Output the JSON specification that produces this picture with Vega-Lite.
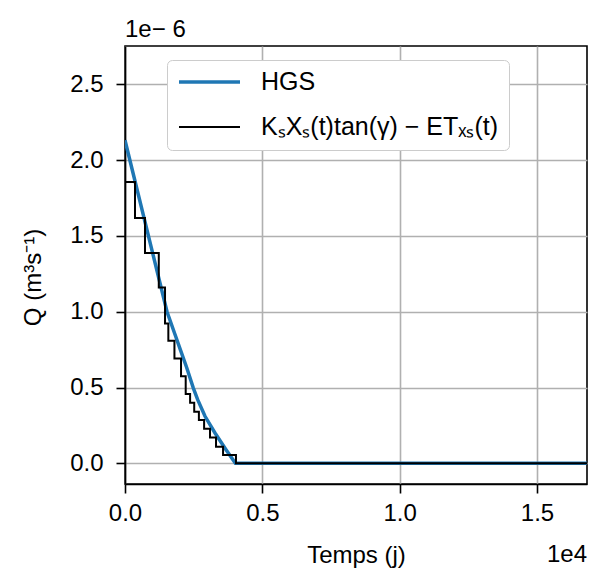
{
  "$schema": "https://vega.github.io/schema/vega-lite/v6.json",
  "width": 462,
  "height": 438,
  "autosize": "none",
  "padding": {"left": 125, "top": 46, "right": 4, "bottom": 86},
  "background": "white",
  "title": {"text": "1e− 6", "anchor": "start", "frame": "group", "fontSize": 24, "fontWeight": "normal", "font": "Liberation Sans", "color": "black", "baseline": "alphabetic", "offset": 9, "dy": 24},
  "data": {"values": [
    {"t": 0, "Q": 2.131e-6, "serie": "HGS"},
    {"t": 1530, "Q": 1.0e-6, "serie": "HGS"},
    {"t": 1821, "Q": 0.85e-6, "serie": "HGS"},
    {"t": 2027, "Q": 0.743e-6, "serie": "HGS"},
    {"t": 2245, "Q": 0.632e-6, "serie": "HGS"},
    {"t": 2488, "Q": 0.496e-6, "serie": "HGS"},
    {"t": 2646, "Q": 0.42e-6, "serie": "HGS"},
    {"t": 2913, "Q": 0.31e-6, "serie": "HGS"},
    {"t": 3277, "Q": 0.2e-6, "serie": "HGS"},
    {"t": 3678, "Q": 0.09e-6, "serie": "HGS"},
    {"t": 4020, "Q": 0, "serie": "HGS"},
    {"t": 16820, "Q": 0, "serie": "HGS"},
    {"t": 0, "Q": 1.856e-6, "serie": "KₛXₛ(t)tan(γ) − ETₓₛ(t)"},
    {"t": 364, "Q": 1.619e-6, "serie": "KₛXₛ(t)tan(γ) − ETₓₛ(t)"},
    {"t": 728, "Q": 1.388e-6, "serie": "KₛXₛ(t)tan(γ) − ETₓₛ(t)"},
    {"t": 1230, "Q": 1.16e-6, "serie": "KₛXₛ(t)tan(γ) − ETₓₛ(t)"},
    {"t": 1457, "Q": 0.923e-6, "serie": "KₛXₛ(t)tan(γ) − ETₓₛ(t)"},
    {"t": 1578, "Q": 0.808e-6, "serie": "KₛXₛ(t)tan(γ) − ETₓₛ(t)"},
    {"t": 1800, "Q": 0.692e-6, "serie": "KₛXₛ(t)tan(γ) − ETₓₛ(t)"},
    {"t": 2040, "Q": 0.575e-6, "serie": "KₛXₛ(t)tan(γ) − ETₓₛ(t)"},
    {"t": 2210, "Q": 0.457e-6, "serie": "KₛXₛ(t)tan(γ) − ETₓₛ(t)"},
    {"t": 2370, "Q": 0.40e-6, "serie": "KₛXₛ(t)tan(γ) − ETₓₛ(t)"},
    {"t": 2520, "Q": 0.34e-6, "serie": "KₛXₛ(t)tan(γ) − ETₓₛ(t)"},
    {"t": 2690, "Q": 0.285e-6, "serie": "KₛXₛ(t)tan(γ) − ETₓₛ(t)"},
    {"t": 2880, "Q": 0.228e-6, "serie": "KₛXₛ(t)tan(γ) − ETₓₛ(t)"},
    {"t": 3095, "Q": 0.171e-6, "serie": "KₛXₛ(t)tan(γ) − ETₓₛ(t)"},
    {"t": 3314, "Q": 0.11e-6, "serie": "KₛXₛ(t)tan(γ) − ETₓₛ(t)"},
    {"t": 3570, "Q": 0.055e-6, "serie": "KₛXₛ(t)tan(γ) − ETₓₛ(t)"},
    {"t": 4040, "Q": 0, "serie": "KₛXₛ(t)tan(γ) − ETₓₛ(t)"},
    {"t": 16820, "Q": 0, "serie": "KₛXₛ(t)tan(γ) − ETₓₛ(t)"}
  ]},
  "layer": [
    {
      "transform": [{"filter": "datum.serie === 'HGS'"}],
      "mark": {"type": "line", "clip": true},
      "encoding": {
        "x": {"field": "t", "type": "quantitative",
          "scale": {"domain": [0, 16820], "nice": false, "zero": false},
          "axis": {"title": "Temps (j)", "values": [0, 5000, 10000, 15000], "labelExpr": "format(datum.value/10000, '.1f')", "labelFlush": false, "labelOverlap": false, "labelPadding": 8, "titlePadding": 18}},
        "y": {"field": "Q", "type": "quantitative",
          "scale": {"domain": [-0.1365e-6, 2.753e-6], "nice": false, "zero": false},
          "axis": {"title": "Q (m³s⁻¹)", "values": [0, 0.5e-6, 1.0e-6, 1.5e-6, 2.0e-6, 2.5e-6], "labelExpr": "format(datum.value*1000000, '.1f')", "labelFlush": false, "labelOverlap": false, "labelPadding": 13, "titlePadding": 24, "titleY": 231}},
        "color": {"field": "serie", "type": "nominal", "scale": {"domain": ["HGS", "KₛXₛ(t)tan(γ) − ETₓₛ(t)"], "range": ["#1f77b4", "#000000"]}, "legend": {"title": null}},
        "strokeWidth": {"field": "serie", "type": "nominal", "scale": {"type": "ordinal", "domain": ["HGS", "KₛXₛ(t)tan(γ) − ETₓₛ(t)"], "range": [3.5, 2]}, "legend": {"title": null}}
      }
    },
    {
      "transform": [{"filter": "datum.serie !== 'HGS'"}],
      "mark": {"type": "line", "interpolate": "step-after", "clip": true},
      "encoding": {
        "x": {"field": "t", "type": "quantitative"},
        "y": {"field": "Q", "type": "quantitative"},
        "color": {"field": "serie", "type": "nominal", "scale": {"domain": ["HGS", "KₛXₛ(t)tan(γ) − ETₓₛ(t)"], "range": ["#1f77b4", "#000000"]}, "legend": {"title": null}},
        "strokeWidth": {"field": "serie", "type": "nominal", "scale": {"type": "ordinal", "domain": ["HGS", "KₛXₛ(t)tan(γ) − ETₓₛ(t)"], "range": [3.5, 2]}, "legend": {"title": null}}
      }
    },
    {
      "data": {"values": [{"label": "1e4", "t": 16820, "Q": -0.651e-6}]},
      "mark": {"type": "text", "align": "right", "baseline": "alphabetic", "fontSize": 24, "font": "Liberation Sans", "color": "black"},
      "encoding": {
        "x": {"field": "t", "type": "quantitative"},
        "y": {"field": "Q", "type": "quantitative"},
        "text": {"field": "label"}
      }
    }
  ],
  "config": {
    "font": "Liberation Sans",
    "view": {"stroke": "black", "strokeWidth": 1.6},
    "axis": {
      "labelFont": "Liberation Sans", "labelFontSize": 24, "labelColor": "black",
      "titleFont": "Liberation Sans", "titleFontSize": 24, "titleFontWeight": "normal", "titleColor": "black",
      "domainColor": "black", "domainWidth": 1.6, "tickColor": "black", "tickWidth": 1.6, "tickSize": 9,
      "gridColor": "#b0b0b0", "gridWidth": 1.6, "grid": true
    },
    "legend": {
      "orient": "none", "legendX": 42, "legendY": 14, "padding": 10,
      "strokeColor": "#cccccc", "fillColor": "white", "cornerRadius": 5,
      "symbolType": "stroke", "symbolSize": 3721, "labelOffset": 19, "labelFontSize": 25,
      "labelFont": "Liberation Sans", "labelColor": "black", "rowPadding": 20, "labelLimit": 500, "clipHeight": 24
    }
  }
}
